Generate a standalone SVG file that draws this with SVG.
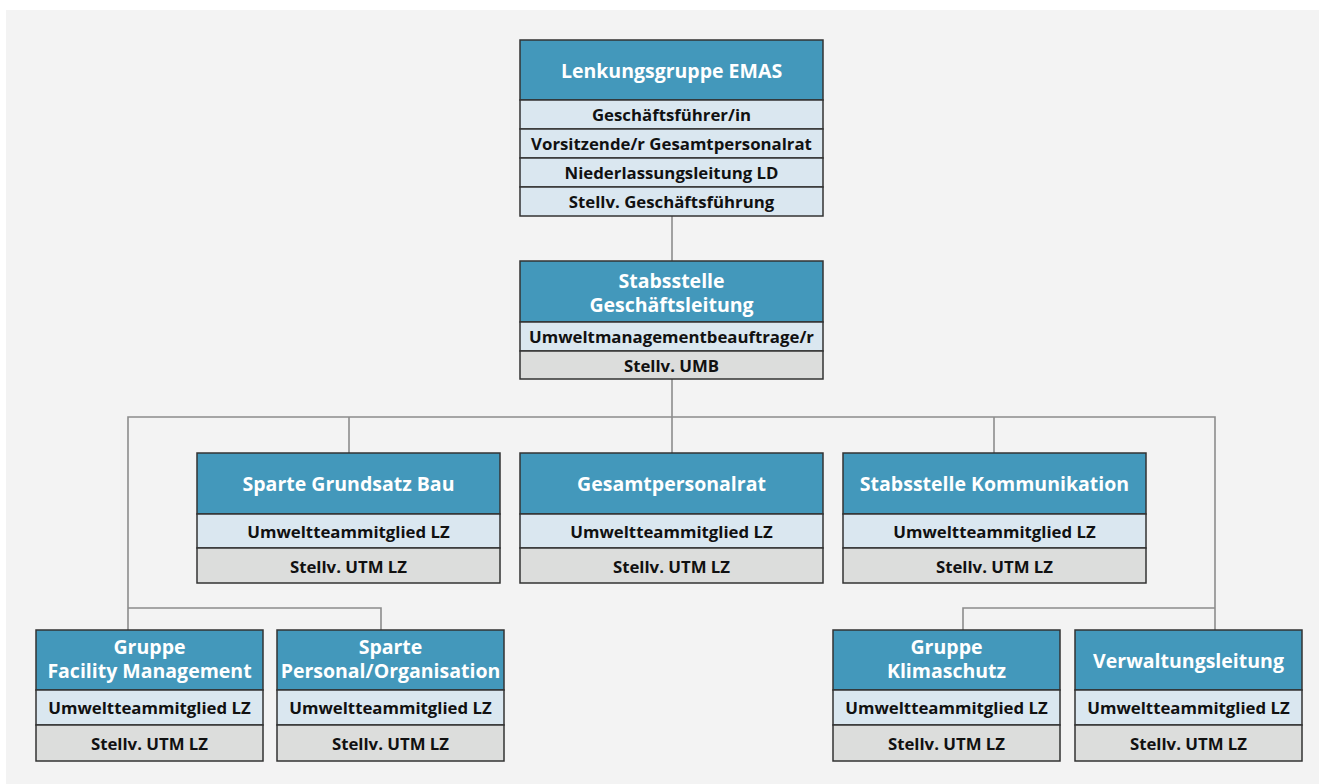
<svg xmlns="http://www.w3.org/2000/svg" width="1319" height="784" viewBox="0 0 1319 784">
  <style>
    .hd { fill: #4398bb; stroke: #333; stroke-width: 1.5; }
    .r1 { fill: #dae7f0; stroke: #333; stroke-width: 1.5; }
    .r2 { fill: #dcdddc; stroke: #333; stroke-width: 1.5; }
    .ht { font-family: "Open Sans", "Liberation Sans", sans-serif; font-weight: 700; font-size: 19.5px; fill: #fff; text-anchor: middle; }
    .rt { font-family: "Open Sans", "Liberation Sans", sans-serif; font-weight: 700; font-size: 16.8px; fill: #111; text-anchor: middle; }
    .ln { fill: none; stroke: #8c8c8c; stroke-width: 1.6; }
  </style>
  <rect x="0" y="0" width="1319" height="784" fill="#fff"/>
  <rect x="6" y="10" width="1313" height="774" fill="#f3f3f3"/>

  <g id="connectors">
    <line class="ln" x1="672" y1="216" x2="672" y2="261"/>
    <line class="ln" x1="672" y1="379" x2="672" y2="453"/>
    <polyline class="ln" points="128,630 128,417 1215,417 1215,630"/>
    <line class="ln" x1="349" y1="417" x2="349" y2="453"/>
    <line class="ln" x1="994" y1="417" x2="994" y2="453"/>
    <polyline class="ln" points="128,608 381,608 381,630"/>
    <polyline class="ln" points="1215,608 963,608 963,630"/>
  </g>

  <g id="lenkungsgruppe">
    <rect class="hd" x="520" y="40" width="303" height="60"/>
    <rect class="r1" x="520" y="100" width="303" height="29"/>
    <rect class="r1" x="520" y="129" width="303" height="29"/>
    <rect class="r1" x="520" y="158" width="303" height="29"/>
    <rect class="r1" x="520" y="187" width="303" height="29"/>
    <text class="ht" x="671.5" y="78">Lenkungsgruppe EMAS</text>
    <text class="rt" x="671.5" y="121">Geschäftsführer/in</text>
    <text class="rt" x="671.5" y="150">Vorsitzende/r Gesamtpersonalrat</text>
    <text class="rt" x="671.5" y="179">Niederlassungsleitung LD</text>
    <text class="rt" x="671.5" y="208">Stellv. Geschäftsführung</text>
  </g>

  <g id="stabsstelle-gl">
    <rect class="hd" x="520" y="261" width="303" height="61"/>
    <rect class="r1" x="520" y="322" width="303" height="29"/>
    <rect class="r2" x="520" y="351" width="303" height="28"/>
    <text class="ht"><tspan x="671.5" y="288">Stabsstelle</tspan><tspan x="671.5" y="312">Geschäftsleitung</tspan></text>
    <text class="rt" x="671.5" y="343">Umweltmanagementbeauftrage/r</text>
    <text class="rt" x="671.5" y="372">Stellv. UMB</text>
  </g>

  <g id="sparte-grundsatz-bau">
    <rect class="hd" x="197" y="453" width="303" height="61"/>
    <rect class="r1" x="197" y="514" width="303" height="34"/>
    <rect class="r2" x="197" y="548" width="303" height="35"/>
    <text class="ht" x="348.5" y="491">Sparte Grundsatz Bau</text>
    <text class="rt" x="348.5" y="538">Umweltteammitglied LZ</text>
    <text class="rt" x="348.5" y="573">Stellv. UTM LZ</text>
  </g>

  <g id="gesamtpersonalrat">
    <rect class="hd" x="520" y="453" width="303" height="61"/>
    <rect class="r1" x="520" y="514" width="303" height="34"/>
    <rect class="r2" x="520" y="548" width="303" height="35"/>
    <text class="ht" x="671.5" y="491">Gesamtpersonalrat</text>
    <text class="rt" x="671.5" y="538">Umweltteammitglied LZ</text>
    <text class="rt" x="671.5" y="573">Stellv. UTM LZ</text>
  </g>

  <g id="stabsstelle-kommunikation">
    <rect class="hd" x="843" y="453" width="303" height="61"/>
    <rect class="r1" x="843" y="514" width="303" height="34"/>
    <rect class="r2" x="843" y="548" width="303" height="35"/>
    <text class="ht" x="994.5" y="491">Stabsstelle Kommunikation</text>
    <text class="rt" x="994.5" y="538">Umweltteammitglied LZ</text>
    <text class="rt" x="994.5" y="573">Stellv. UTM LZ</text>
  </g>

  <g id="gruppe-facility-management">
    <rect class="hd" x="36" y="630" width="227" height="60"/>
    <rect class="r1" x="36" y="690" width="227" height="35"/>
    <rect class="r2" x="36" y="725" width="227" height="36"/>
    <text class="ht"><tspan x="149.5" y="654">Gruppe</tspan><tspan x="149.5" y="678">Facility Management</tspan></text>
    <text class="rt" x="149.5" y="714">Umweltteammitglied LZ</text>
    <text class="rt" x="149.5" y="750">Stellv. UTM LZ</text>
  </g>

  <g id="sparte-personal-organisation">
    <rect class="hd" x="277" y="630" width="227" height="60"/>
    <rect class="r1" x="277" y="690" width="227" height="35"/>
    <rect class="r2" x="277" y="725" width="227" height="36"/>
    <text class="ht"><tspan x="390.5" y="654">Sparte</tspan><tspan x="390.5" y="678">Personal/Organisation</tspan></text>
    <text class="rt" x="390.5" y="714">Umweltteammitglied LZ</text>
    <text class="rt" x="390.5" y="750">Stellv. UTM LZ</text>
  </g>

  <g id="gruppe-klimaschutz">
    <rect class="hd" x="833" y="630" width="227" height="60"/>
    <rect class="r1" x="833" y="690" width="227" height="35"/>
    <rect class="r2" x="833" y="725" width="227" height="36"/>
    <text class="ht"><tspan x="946.5" y="654">Gruppe</tspan><tspan x="946.5" y="678">Klimaschutz</tspan></text>
    <text class="rt" x="946.5" y="714">Umweltteammitglied LZ</text>
    <text class="rt" x="946.5" y="750">Stellv. UTM LZ</text>
  </g>

  <g id="verwaltungsleitung">
    <rect class="hd" x="1075" y="630" width="227" height="60"/>
    <rect class="r1" x="1075" y="690" width="227" height="35"/>
    <rect class="r2" x="1075" y="725" width="227" height="36"/>
    <text class="ht" x="1188.5" y="668">Verwaltungsleitung</text>
    <text class="rt" x="1188.5" y="714">Umweltteammitglied LZ</text>
    <text class="rt" x="1188.5" y="750">Stellv. UTM LZ</text>
  </g>
</svg>
